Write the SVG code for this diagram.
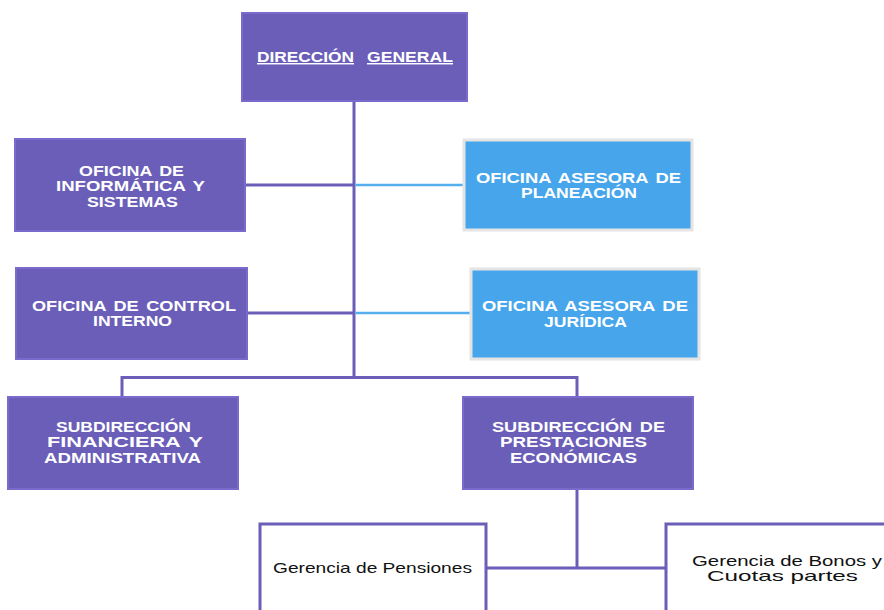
<svg xmlns="http://www.w3.org/2000/svg" width="884" height="610" viewBox="0 0 884 610" xml:space="preserve">
<style>
.p{fill:#6A5EB8;stroke:#7A6ACB;stroke-width:2}
.b{fill:#47A6EB;stroke:#E4E4E4;stroke-width:3}
.w{fill:#FFFFFF;stroke:#6A5EB8;stroke-width:3}
.t{font-family:"Liberation Sans",Arial,sans-serif;font-weight:bold;font-size:14.5px;fill:#FFFFFF;word-spacing:2px}
.u{text-decoration:underline}
.g{font-family:"Liberation Sans",Arial,sans-serif;font-size:14.5px;fill:#111111}
.lp{stroke:#6A5EB8;stroke-width:3;fill:none}
.lb{stroke:#55AEEE;stroke-width:2.5;fill:none}
</style>
<rect width="884" height="610" fill="#FFFFFF"/>
<g id="connectors">
<line class="lp" x1="354" y1="101" x2="354" y2="378"/>
<line class="lp" x1="245" y1="185" x2="354" y2="185"/>
<line class="lb" x1="355.5" y1="185" x2="463" y2="185"/>
<line class="lp" x1="247" y1="313" x2="354" y2="313"/>
<line class="lb" x1="355.5" y1="313" x2="470" y2="313"/>
<polyline class="lp" points="122,397 122,377.5 577,377.5 577,397"/>
<line class="lp" x1="577" y1="489" x2="577" y2="568"/>
<line class="lp" x1="487" y1="568" x2="666" y2="568"/>
</g>
<g id="direccion-general">
<rect class="p" x="242" y="13" width="225" height="88"/>
<text class="t u" x="257" y="62" textLength="97" lengthAdjust="spacingAndGlyphs">DIRECCIÓN</text>
<text class="t u" x="367" y="62" textLength="86" lengthAdjust="spacingAndGlyphs">GENERAL</text>
</g>
<g id="oficina-informatica">
<rect class="p" x="15" y="139" width="230" height="92"/>
<text class="t" x="79" y="176" textLength="105" lengthAdjust="spacingAndGlyphs">OFICINA  DE</text>
<text class="t" x="56" y="191" textLength="149" lengthAdjust="spacingAndGlyphs">INFORMÁTICA  Y</text>
<text class="t" x="87" y="207" textLength="91" lengthAdjust="spacingAndGlyphs">SISTEMAS</text>
</g>
<g id="oficina-planeacion">
<rect class="b" x="464" y="140" width="228" height="90"/>
<text class="t" x="476" y="183" textLength="205" lengthAdjust="spacingAndGlyphs">OFICINA  ASESORA  DE</text>
<text class="t" x="521" y="198" textLength="116" lengthAdjust="spacingAndGlyphs">PLANEACIÓN</text>
</g>
<g id="oficina-control">
<rect class="p" x="16" y="268" width="231" height="91"/>
<text class="t" x="32" y="311" textLength="204" lengthAdjust="spacingAndGlyphs">OFICINA  DE  CONTROL</text>
<text class="t" x="93" y="326" textLength="79" lengthAdjust="spacingAndGlyphs">INTERNO</text>
</g>
<g id="oficina-juridica">
<rect class="b" x="471" y="269" width="228" height="90"/>
<text class="t" x="482" y="311" textLength="206" lengthAdjust="spacingAndGlyphs">OFICINA  ASESORA  DE</text>
<text class="t" x="544" y="327" textLength="83" lengthAdjust="spacingAndGlyphs">JURÍDICA</text>
</g>
<g id="subdireccion-financiera">
<rect class="p" x="8" y="397" width="230" height="92"/>
<text class="t" x="56" y="432" textLength="135" lengthAdjust="spacingAndGlyphs">SUBDIRECCIÓN</text>
<text class="t" x="47" y="447" textLength="156" lengthAdjust="spacingAndGlyphs">FINANCIERA  Y</text>
<text class="t" x="44" y="463" textLength="157" lengthAdjust="spacingAndGlyphs">ADMINISTRATIVA</text>
</g>
<g id="subdireccion-prestaciones">
<rect class="p" x="463" y="397" width="230" height="92"/>
<text class="t" x="492" y="432" textLength="173" lengthAdjust="spacingAndGlyphs">SUBDIRECCIÓN  DE</text>
<text class="t" x="500" y="447" textLength="147" lengthAdjust="spacingAndGlyphs">PRESTACIONES</text>
<text class="t" x="510" y="463" textLength="127" lengthAdjust="spacingAndGlyphs">ECONÓMICAS</text>
</g>
<g id="gerencia-pensiones">
<rect class="w" x="260" y="524" width="226" height="100"/>
<text class="g" x="273" y="573" textLength="199" lengthAdjust="spacingAndGlyphs">Gerencia de Pensiones</text>
</g>
<g id="gerencia-bonos">
<rect class="w" x="666" y="524" width="230" height="100"/>
<text class="g" x="692" y="566" textLength="190" lengthAdjust="spacingAndGlyphs">Gerencia de Bonos y</text>
<text class="g" x="707" y="581" textLength="151" lengthAdjust="spacingAndGlyphs">Cuotas partes</text>
</g>
</svg>
